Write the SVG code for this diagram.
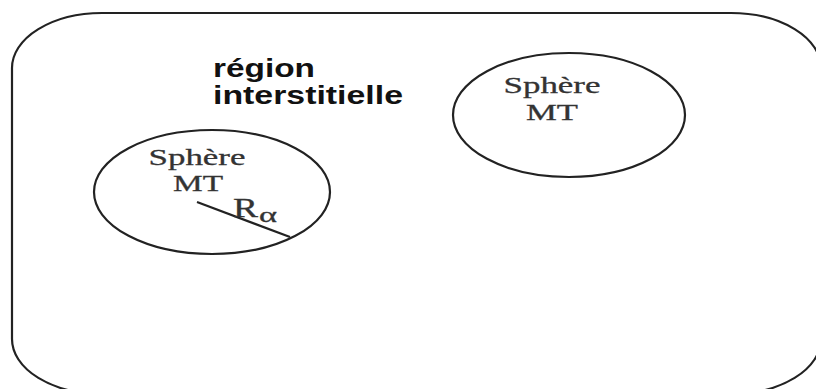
<svg xmlns="http://www.w3.org/2000/svg" width="816" height="389" viewBox="0 0 816 389">
<style>
.shape{fill:none;stroke:#222;stroke-width:2.2}
.serif{font-family:"Liberation Serif","Times New Roman",serif;fill:#333;stroke:#333;stroke-width:0.3;text-anchor:middle}
.bold{font-family:"Liberation Sans",Arial,sans-serif;font-weight:bold;fill:#111;font-size:25px}
</style>
<rect width="816" height="389" fill="#fff"/>
<g id="region">
<rect class="shape" x="12" y="13" width="809" height="381" rx="90" ry="55"/>
<text class="bold" x="213" y="77" textLength="102" lengthAdjust="spacingAndGlyphs">région</text>
<text class="bold" x="213" y="104" textLength="190" lengthAdjust="spacingAndGlyphs">interstitielle</text>
</g>
<g id="sphere-left">
<ellipse class="shape" cx="212" cy="192" rx="118" ry="62"/>
<text class="serif" x="197" y="165" font-size="24" textLength="97" lengthAdjust="spacingAndGlyphs">Sphère</text>
<text class="serif" x="198" y="191" font-size="24" textLength="50" lengthAdjust="spacingAndGlyphs">MT</text>
<line class="shape" x1="197" y1="202" x2="290" y2="237"/>
<text class="serif" x="233" y="217" font-size="27" style="text-anchor:start" textLength="25" lengthAdjust="spacingAndGlyphs">R</text>
<text class="serif" x="259" y="222" font-size="20" style="text-anchor:start" textLength="18" lengthAdjust="spacingAndGlyphs">α</text>
</g>
<g id="sphere-right">
<ellipse class="shape" cx="569" cy="115" rx="116" ry="62"/>
<text class="serif" x="552" y="93" font-size="24" textLength="97" lengthAdjust="spacingAndGlyphs">Sphère</text>
<text class="serif" x="552" y="120" font-size="24" textLength="52" lengthAdjust="spacingAndGlyphs">MT</text>
</g>
<g id="connectors"/>
</svg>
